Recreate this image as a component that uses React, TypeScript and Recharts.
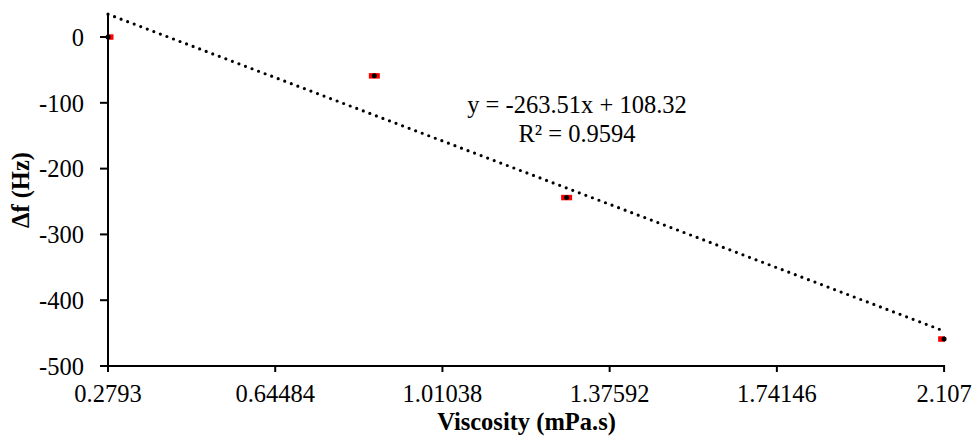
import {
  ComposedChart,
  ErrorBar,
  Line,
  Scatter,
  XAxis,
  YAxis,
} from "recharts";

// viscosity (mPa.s) vs frequency shift (Hz)
const viscosity = [0.2793, 0.8615, 1.2818, 2.107];
const deltaF = [0, -59, -244, -459];
// horizontal error (left, right) in mPa.s
const xErrors: [number, number][] = [
  [0, 0.012],
  [0.012, 0.012],
  [0.012, 0.012],
  [0.013, 0.002],
];

// linear trendline end points
const trendX = [0.2793, 2.107];
const trendY = [34.7, -446.9];

const xTicks = [0.2793, 0.64484, 1.01038, 1.37592, 1.74146, 2.107];
const yTicks = [-500, -400, -300, -200, -100, 0];

const points = viscosity.map((x, i) => ({ x, y: deltaF[i], err: xErrors[i] }));
const trend = trendX.map((x, i) => ({ x, y: trendY[i] }));

const font = "'Liberation Serif', 'Times New Roman', serif";

function Dot(props: any) {
  const { cx, cy } = props;
  return <circle cx={cx} cy={cy} r={2.5} fill="#000" />;
}

export default function App() {
  return (
    <div style={{ position: "absolute", left: 0, top: 0, width: 974, height: 438, background: "#fff" }}>
      <ComposedChart
        width={974}
        height={438}
        margin={{ top: 14, right: 29, left: 0, bottom: 0 }}
        style={{ fontFamily: font }}
      >
        <XAxis
          type="number"
          dataKey="x"
          domain={[0.2793, 2.107]}
          ticks={xTicks}
          interval={0}
          height={72}
          stroke="#000"
          strokeWidth={2}
          tickSize={6}
          tickMargin={13}
          tick={{ fill: "#000", fontSize: 24.5, fontFamily: font }}
          tickFormatter={(v: number) => String(v)}
          label={{
            value: "Viscosity (mPa.s)",
            position: "insideBottom",
            offset: 8,
            style: { fill: "#000", fontSize: 24.5, fontWeight: 700, fontFamily: font },
          }}
        />
        <YAxis
          type="number"
          domain={[-500, 35]}
          ticks={yTicks}
          interval={0}
          width={108}
          stroke="#000"
          strokeWidth={2}
          tickSize={8}
          tickMargin={16}
          tick={{ fill: "#000", fontSize: 24.5, fontFamily: font }}
          label={{
            value: "\u0394f (Hz)",
            angle: -90,
            position: "insideLeft",
            offset: 20,
            style: { fill: "#000", fontSize: 24.5, fontWeight: 700, fontFamily: font, textAnchor: "middle" },
          }}
        />
        <Line
          data={trend}
          dataKey="y"
          stroke="#000"
          strokeWidth={3.2}
          strokeDasharray="0 7"
          strokeLinecap="round"
          dot={false}
          activeDot={false}
          isAnimationActive={false}
        />
        <Scatter data={points} dataKey="y" shape={<Dot />} isAnimationActive={false}>
          <ErrorBar dataKey="err" direction="x" stroke="#ff0000" strokeWidth={5.5} width={0} />
        </Scatter>
      </ComposedChart>
      <div
        style={{
          position: "absolute",
          left: 437,
          top: 90,
          width: 280,
          textAlign: "center",
          fontFamily: font,
          fontSize: 24.5,
          lineHeight: "29px",
          color: "#000",
        }}
      >
        <div>y = -263.51x + 108.32</div>
        <div>R² = 0.9594</div>
      </div>
    </div>
  );
}
